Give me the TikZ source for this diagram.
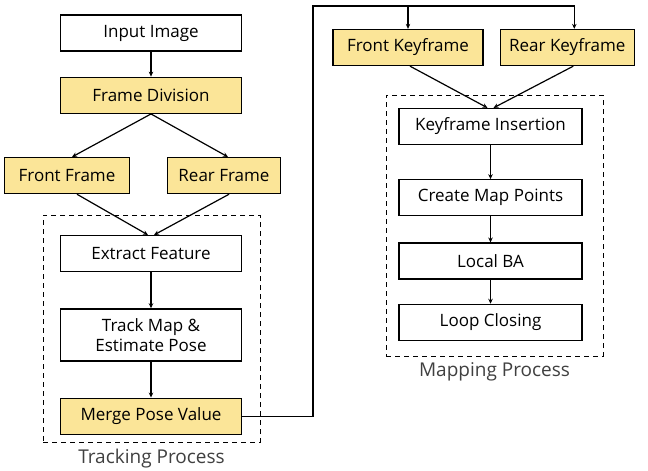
\documentclass[tikz,border=0pt]{standalone}
\usepackage{fontspec}
\setmainfont{Open Sans}
\usepackage{xcolor}
\usepackage{tikz}
\usetikzlibrary{arrows.meta, positioning}

\definecolor{keyyellow}{RGB}{251,229,152}

\tikzset{
    plain/.style={draw, line width=1.3pt, minimum width=181pt, minimum height=36pt,
        inner sep=2pt, align=center, font=\fontsize{17}{20}\selectfont},
    hl/.style={plain, fill=keyyellow},
    group/.style={draw, dashed, line width=0.8pt, dash pattern=on 5pt off 4pt},
    grouplabel/.style={text=black!75, font=\fontsize{19}{22}\selectfont},
    link/.style={line width=1.2pt, -{Stealth[length=5pt,width=4.5pt]}},
}

\begin{document}
\begin{tikzpicture}[x=1pt, y=-1pt]
        \useasboundingbox (0,0) rectangle (648,471);

        % tracking side
        \node[plain]                    (input)    at (151,33) {Input Image};
        \node[hl, below=25pt of input]  (division) {Frame Division};
        \node[hl, minimum width=125pt, below=43pt of division, xshift=-84pt] (front) {Front Frame};
        \node[hl, minimum width=113pt, below=43pt of division, xshift=73pt]  (rear)  {Rear Frame};
        \node[plain, below=121pt of division] (extract) {Extract Feature};
        \node[plain, minimum height=52pt, below=36pt of extract] (track) {Track Map \&\\Estimate Pose};
        \node[hl, below=36pt of track]  (merge)    {Merge Pose Value};

        \node[group, minimum width=217pt, minimum height=227pt] (tracking) at (151.5,328.5) {};
        \node[grouplabel, below=3pt of tracking] {Tracking Process};

        % mapping side
        \node[hl, minimum width=150pt]  (fkey)     at (408,47.5) {Front Keyframe};
        \node[hl, minimum width=134pt, right=16pt of fkey] (rkey) {Rear Keyframe};
        \node[plain, minimum width=183pt] (insert) at (490.5,126.5) {Keyframe Insertion};
        \node[plain, minimum width=183pt, below=34pt of insert] (points) {Create Map Points};
        \node[plain, minimum width=183pt, below=26pt of points]  (localba) {Local BA};
        \node[plain, minimum width=183pt, below=24pt of localba] (loop)    {Loop Closing};

        \node[group, minimum width=217pt, minimum height=261pt] (mapping) at (494.5,225.5) {};
        \node[grouplabel, below=3pt of mapping] {Mapping Process};

        \coordinate (turn) at (313,6);

        \draw[link] (input) -- (division);
        \draw[link] (division.south) -- ([xshift=5pt]front.north);
        \draw[link] (division.south) -- ([xshift=4pt]rear.north);
        \draw[link] ([xshift=10pt]front.south) -- ([xshift=-3pt]extract.north);
        \draw[link] ([xshift=5pt]rear.south) -- ([xshift=3pt]extract.north);
        \draw[link] (extract) -- (track);
        \draw[link] (track) -- (merge);

        \draw[link] (merge.east) -| (turn) -| ([xshift=7pt]rkey.north);
        \draw[link] (turn -| fkey.north) -- (fkey.north);

        \draw[link] ([xshift=2pt]fkey.south) -- ([xshift=-3pt]insert.north);
        \draw[link] ([xshift=6pt]rkey.south) -- ([xshift=3pt]insert.north);
        \draw[link] (insert) -- (points);
        \draw[link] (points) -- (localba);
        \draw[link] (localba) -- (loop);
\end{tikzpicture}
\end{document}
